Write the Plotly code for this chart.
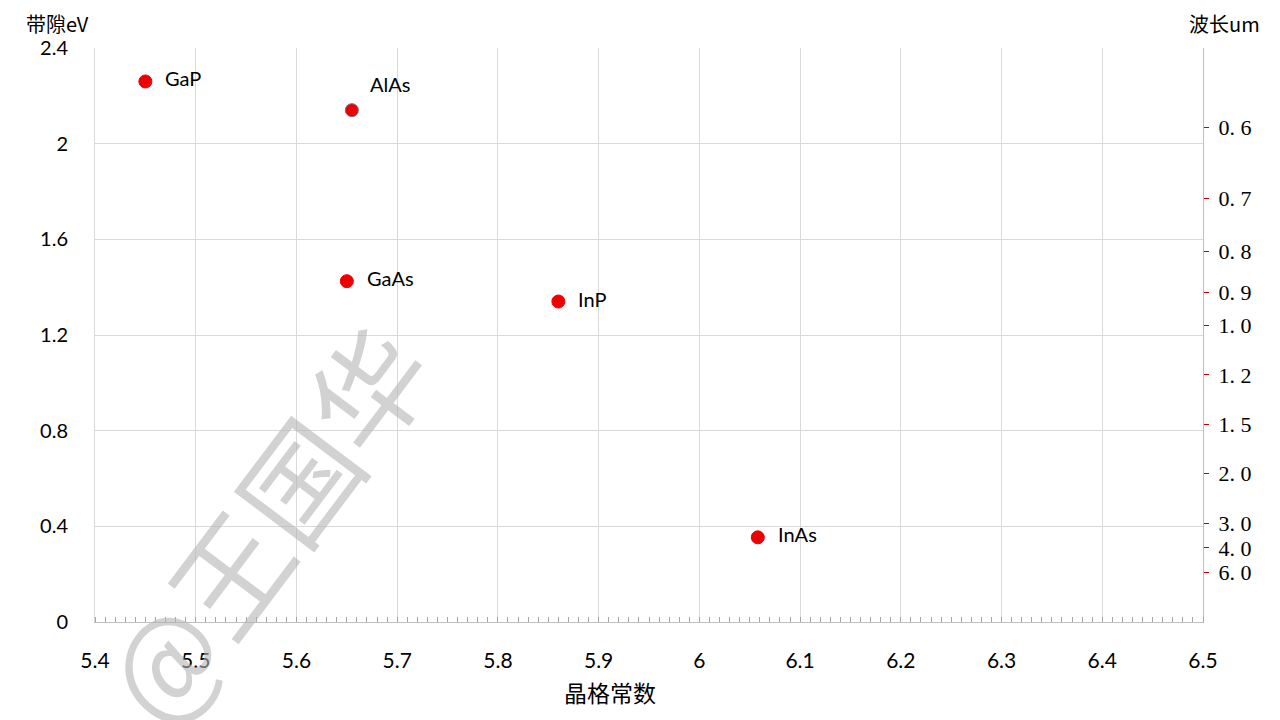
import plotly.graph_objects as go

materials = ["GaP", "AlAs", "GaAs", "InP", "InAs"]
lattice = [5.45, 5.655, 5.65, 5.86, 6.058]
bandgap = [2.26, 2.14, 1.425, 1.34, 0.354]
label_pos = ["right", "above", "right", "right", "right"]

wavelength_ticks = [0.6, 0.7, 0.8, 0.9, 1.0, 1.2, 1.5, 2.0, 3.0, 4.0, 6.0]
wavelength_text = ["0. 6", "0. 7", "0. 8", "0. 9", "1. 0", "1. 2", "1. 5", "2. 0", "3. 0", "4. 0", "6. 0"]
hc = 1.24  # eV*um

x_ticks = [5.4, 5.5, 5.6, 5.7, 5.8, 5.9, 6.0, 6.1, 6.2, 6.3, 6.4, 6.5]
x_ticktext = ["5.4", "5.5", "5.6", "5.7", "5.8", "5.9", "6", "6.1", "6.2", "6.3", "6.4", "6.5"]
y_ticks = [0, 0.4, 0.8, 1.2, 1.6, 2.0, 2.4]
y_ticktext = ["0", "0.4", "0.8", "1.2", "1.6", "2", "2.4"]

SANS = "Lato, 'Noto Sans', sans-serif"
CJK = "'Noto Sans CJK SC', sans-serif"

fig = go.Figure()
line_colors = ["#ee0000", "#707070", "#ee0000", "#ee0000", "#ee0000"]
fig.add_trace(go.Scatter(
    x=lattice, y=bandgap, mode="markers",
    marker=dict(color="#ee0000", size=13, line=dict(color=line_colors, width=1)),
    showlegend=False, hoverinfo="x+y",
))
# invisible trace for wavelength axis
fig.add_trace(go.Scatter(x=[lattice[0]], y=[bandgap[0]], yaxis="y2", mode="markers",
                         marker=dict(opacity=0), showlegend=False, hoverinfo="skip"))

for name, x, y, pos in zip(materials, lattice, bandgap, label_pos):
    if pos == "right":
        fig.add_annotation(x=x, y=y, text=name, showarrow=False, xanchor="left",
                           xshift=18, yshift=3, font=dict(family=SANS, size=20, color="#000"))
    else:
        fig.add_annotation(x=x, y=y, text=name, showarrow=False, xanchor="left",
                           xshift=16, yshift=26, font=dict(family=SANS, size=20, color="#000"))

fig.update_layout(
    width=1280, height=720,
    margin=dict(l=87, r=85, t=40, b=106),
    paper_bgcolor="white", plot_bgcolor="white",
    xaxis=dict(
        range=[5.4, 6.5], tickvals=x_ticks, ticktext=x_ticktext, automargin=False,
        showgrid=True, gridcolor="#d9d9d9", gridwidth=1,
        showline=True, linecolor="#bfbfbf", linewidth=1,
        ticks="", ticklabelstandoff=20,
        tickfont=dict(family=SANS, size=21, color="#000"),
        minor=dict(dtick=0.01, tick0=5.4, ticks="inside", ticklen=5, tickcolor="#a6a6a6", showgrid=False),
        zeroline=False,
    ),
    yaxis=dict(
        range=[0, 2.4], tickvals=y_ticks, ticktext=y_ticktext, automargin=False,
        showgrid=True, gridcolor="#d9d9d9", gridwidth=1,
        showline=True, linecolor="#d9d9d9", zeroline=False, ticks="",
        ticklabelstandoff=22,
        tickfont=dict(family=SANS, size=20, color="#000"),
    ),
    yaxis2=dict(
        range=[0, 2.4], overlaying="y", side="right", automargin=False,
        tickvals=[hc / w for w in wavelength_ticks], ticktext=wavelength_text,
        showgrid=False, zeroline=False,
        showline=True, linecolor="#bfbfbf", linewidth=1,
        ticks="outside", ticklen=5, tickcolor="#c00000", tickwidth=1,
        ticklabelstandoff=5,
        tickfont=dict(family="'Liberation Serif', 'DejaVu Serif', serif", size=22, color="#000"),
    ),
    font=dict(family=SANS, color="#000"),
)

fig.add_annotation(xref="paper", yref="paper", x=0.465, y=-0.122, text="晶格常数",
                   showarrow=False, xanchor="center", yanchor="middle",
                   font=dict(family=CJK, size=23, color="#000"))
fig.add_annotation(xref="paper", yref="paper", x=-0.0632, y=1.0695, text="带隙eV",
                   showarrow=False, xanchor="left", yanchor="top", borderpad=0,
                   font=dict(family=CJK, size=20, color="#000"))
fig.add_annotation(xref="paper", yref="paper", x=0.9865, y=1.0695, text="波长um",
                   showarrow=False, xanchor="left", yanchor="top", borderpad=0,
                   font=dict(family=CJK, size=20, color="#000"))

# watermark
fig.add_annotation(xref="paper", yref="paper", x=0.1516, y=0.174, text="@王国华",
                   showarrow=False, textangle=-53, xanchor="center", yanchor="middle",
                   font=dict(family=CJK, size=115, color="rgba(180,180,180,0.6)"))

fig.write_html("out.html")
